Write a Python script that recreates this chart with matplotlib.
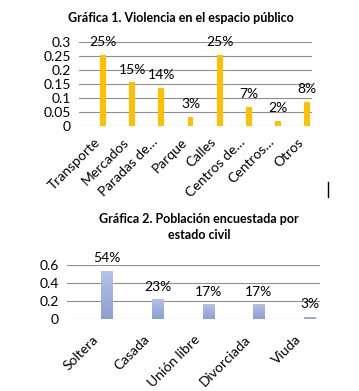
import numpy as np
import matplotlib.pyplot as plt
from matplotlib.lines import Line2D
from matplotlib.colors import LinearSegmentedColormap

plt.rcParams['font.family'] = ['Lato', 'DejaVu Sans']

# Gráfica 1
lugares = ["Transporte", "Mercados", "Paradas de…", "Parque", "Calles",
           "Centros de…", "Centros…", "Otros"]
violencia = [0.254, 0.155, 0.137, 0.032, 0.254, 0.068, 0.018, 0.086]
violencia_txt = ["25%", "15%", "14%", "3%", "25%", "7%", "2%", "8%"]
ticks1 = [0, 0.05, 0.1, 0.15, 0.2, 0.25, 0.3]
ticks1_txt = ["0", "0.05", "0.1", "0.15", "0.2", "0.25", "0.3"]

# Gráfica 2
estado = ["Soltera", "Casada", "Unión libre", "Divorciada", "Viuda"]
poblacion = [0.537, 0.225, 0.17, 0.17, 0.029]
poblacion_txt = ["54%", "23%", "17%", "17%", "3%"]
ticks2 = [0, 0.2, 0.4, 0.6]
ticks2_txt = ["0", "0.2", "0.4", "0.6"]

GRID = "#8f8f8f"
GOLD = "#FFC000"
FS = 10


def style_axes(ax, yticks, ytxt, ymax, n):
    ax.set_xlim(-0.5, n - 0.5)
    ax.set_ylim(0, ymax)
    ax.set_yticks(yticks)
    ax.set_yticklabels(ytxt, fontsize=FS)
    for s in ("left", "right", "top", "bottom"):
        ax.spines[s].set_visible(False)
    ax.tick_params(length=0, pad=6)
    ax.yaxis.grid(True, color=GRID, linewidth=0.8)
    ax.set_axisbelow(True)


def add_labels(ax, xs, vals, txts):
    for x, v, t in zip(xs, vals, txts):
        ax.annotate(t, (x, v), xytext=(0, 9), textcoords="offset points",
                    ha="center", va="center", fontsize=FS)


fig = plt.figure(figsize=(3.59, 3.91), dpi=100)

# ---- chart 1
ax1 = fig.add_axes([0.220, 0.678, 0.649, 0.215])
x1 = np.arange(len(lugares))
ax1.bar(x1 + 0.33, violencia, width=0.2, color=GOLD, zorder=3)
style_axes(ax1, ticks1, ticks1_txt, 0.3, len(lugares))
ax1.set_xticks(x1)
ax1.set_xticklabels(lugares, rotation=45, ha="right", rotation_mode="anchor",
                    fontsize=FS)
ax1.tick_params(axis="x", pad=7)
add_labels(ax1, x1 + 0.33, violencia, violencia_txt)
fig.text(0.505, 0.953, "Gráfica 1. Violencia en el espacio público",
         ha="center", va="center", fontsize=9, fontweight="bold")

# ---- chart 2 (bars with vertical gradient)
ax2 = fig.add_axes([0.187, 0.183, 0.705, 0.139])
x2 = np.arange(len(estado))
bars = ax2.bar(x2 + 0.29, poblacion, width=0.23, color="#a7b6e0", zorder=3)
grad = np.linspace(0, 1, 64).reshape(-1, 1)
cmap = LinearSegmentedColormap.from_list("azul", ["#8d9ed0", "#b6c4ea"])
for b in bars:
    x0, y0 = b.get_x(), b.get_y()
    im = ax2.imshow(grad, extent=[x0, x0 + b.get_width(), y0, y0 + b.get_height()],
                    origin="lower", cmap=cmap, aspect="auto", zorder=4)
    im.set_clip_path(b)
style_axes(ax2, ticks2, ticks2_txt, 0.6, len(estado))
ax2.set_xticks(x2)
ax2.set_xticklabels(estado, rotation=45, ha="right", rotation_mode="anchor",
                    fontsize=FS)
ax2.tick_params(axis="x", pad=10)
add_labels(ax2, x2 + 0.29, poblacion, poblacion_txt)
fig.text(0.555, 0.419, "Gráfica 2. Población encuestada por\nestado civil",
         ha="center", va="center", fontsize=9, fontweight="bold",
         linespacing=1.35)

# stray cursor mark in the original capture
fig.add_artist(Line2D([0.914, 0.914], [0.497, 0.535], color="black",
                      linewidth=1, transform=fig.transFigure))

fig.savefig("out.png", dpi=100)
